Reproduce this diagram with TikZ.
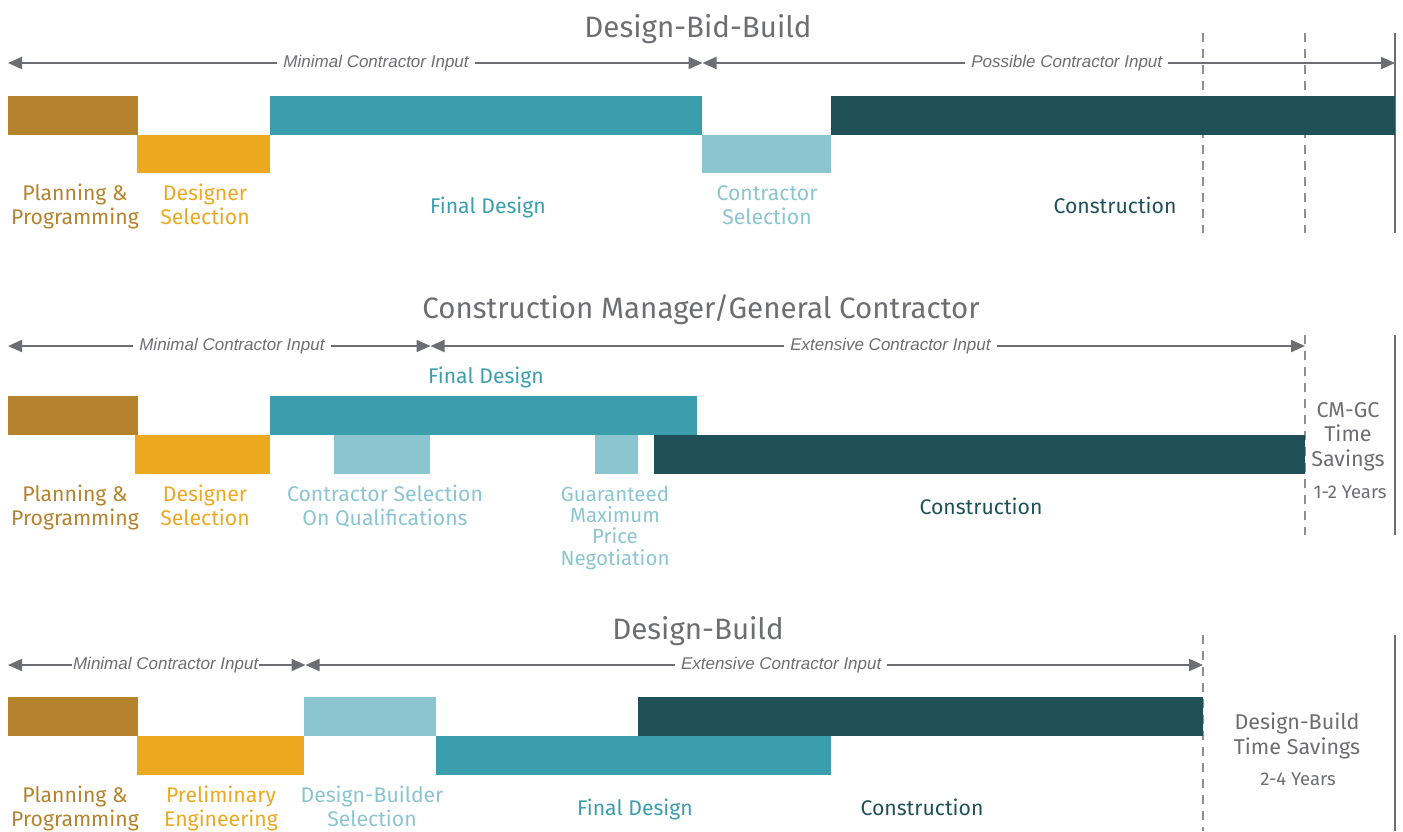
\documentclass[tikz,border=0pt]{standalone}
\usepackage{fontspec}
\setmainfont{Fira Sans}
\newfontfamily\inputfont{Liberation Sans}
\usetikzlibrary{arrows.meta}

\definecolor{plancol}{HTML}{B5832E}
\definecolor{desigcol}{HTML}{ECA920}
\definecolor{finalcol}{HTML}{3A9EAD}
\definecolor{selcol}{HTML}{8BC5CF}
\definecolor{constcol}{HTML}{1F5058}
\definecolor{txtgray}{HTML}{6D6E71}
\definecolor{dashgray}{HTML}{8E8E8E}

\tikzset{
  title/.style={font=\fontsize{29.5}{32}\selectfont, text=txtgray, anchor=base, inner sep=0pt},
  phase/.style={font=\fontsize{21.2}{24}\selectfont, align=center, anchor=base, inner sep=0pt},
  saving/.style={font=\fontsize{21.5}{24.5}\selectfont, align=center, anchor=base, inner sep=0pt, text=txtgray},
  years/.style={font=\fontsize{18.5}{20}\selectfont, anchor=base, inner sep=0pt, text=txtgray},
  span/.style={draw=txtgray, line width=2pt, {Triangle[length=14pt,width=12pt]}-{Triangle[length=14pt,width=12pt]}},
  spanlbl/.style={font=\inputfont\itshape\fontsize{17}{19}\selectfont, text=txtgray, fill=white, inner xsep=6pt, inner ysep=2pt},
  endline/.style={draw=txtgray, line width=2pt},
  saveline/.style={draw=dashgray, line width=1.6pt, dash pattern=on 9pt off 7pt}
}

\begin{document}
\begin{tikzpicture}[x=1pt,y=-1pt]
\useasboundingbox (0,0) rectangle (1403,831);

% ---------- Design-Bid-Build ----------
\node[title] (dbbtitle) at (698,37) {Design-Bid-Build};
\coordinate (dbbA) at (8,63);
\coordinate (dbbB) at (702.5,63);
\coordinate (dbbC) at (1395,63);
\draw[saveline] (1203,33) -- (1203,233);
\draw[saveline] (1305,33) -- (1305,233);
\draw[endline] (1395,33) -- (1395,233);
\foreach \xa/\xb/\ya/\col in {8/138/96/plancol, 137/270/134.5/desigcol, 270/702/96/finalcol,
  702/831/134.5/selcol, 831/1395/96/constcol}
  \fill[\col] (\xa,\ya) rectangle (\xb,\ya+38.5);
\draw[span] (dbbA) -- (dbbB) node[spanlbl, pos=0.53] (dbbmin) {Minimal Contractor Input};
\draw[span] (dbbB) -- (dbbC) node[spanlbl, pos=0.526] (dbbpos) {Possible Contractor Input};

\node[phase, text=plancol] (dbbplan) at (75,224) {Planning \&\\Programming};
\node[phase, text=desigcol] (dbbdes) at (205,224) {Designer\\Selection};
\node[phase, text=finalcol] (dbbfin) at (488,213) {Final Design};
\node[phase, text=selcol] (dbbcon) at (767,224) {Contractor\\Selection};
\node[phase, text=constcol] (dbbbuild) at (1115,213) {Construction};

% ---------- CM/GC ----------
\node[title] (cmtitle) at (701,318) {Construction Manager/General Contractor};
\coordinate (cmA) at (8,346);
\coordinate (cmB) at (430.5,346);
\coordinate (cmC) at (1305,346);
\draw[saveline] (1305,335) -- (1305,535);
\draw[endline] (1395,335) -- (1395,535);
\foreach \xa/\xb/\ya/\col in {8/138/396/plancol, 135/270/435/desigcol, 270/697/396/finalcol,
  334/430/435/selcol, 595/638/435/selcol, 654/1305/435/constcol}
  \fill[\col] (\xa,\ya) rectangle (\xb,\ya+39);
\draw[span] (cmA) -- (cmB) node[spanlbl, pos=0.53] (cmmin) {Minimal Contractor Input};
\draw[span] (cmB) -- (cmC) node[spanlbl, pos=0.526] (cmext) {Extensive Contractor Input};

\node[phase, text=finalcol] (cmfin) at (486,383) {Final Design};
\node[phase, text=plancol] (cmplan) at (75,525) {Planning \&\\Programming};
\node[phase, text=desigcol] (cmdes) at (205,525) {Designer\\Selection};
\node[phase, text=selcol] (cmqual) at (385,525) {Contractor Selection\\On Qualifications};
\node[phase, text=selcol, font=\fontsize{20.5}{21.2}\selectfont] (cmgmp) at (615,565) {Guaranteed\\Maximum\\Price\\Negotiation};
\node[phase, text=constcol] (cmbuild) at (981,514) {Construction};
\node[saving] (cmsave) at (1348,466) {CM-GC\\Time\\Savings};
\node[years] (cmyears) at (1350,498) {1-2 Years};

% ---------- Design-Build ----------
\node[title] (dbtitle) at (698,639) {Design-Build};
\coordinate (dbA) at (8,665);
\coordinate (dbB) at (305.5,665);
\coordinate (dbC) at (1203,665);
\draw[saveline] (1203,635) -- (1203,831);
\draw[endline] (1395,635) -- (1395,831);
\foreach \xa/\xb/\ya/\col in {8/138/697/plancol, 137/304/736/desigcol, 304/436/697/selcol,
  436/831/736/finalcol, 638/1203/697/constcol}
  \fill[\col] (\xa,\ya) rectangle (\xb,\ya+39);
\draw[span] (dbA) -- (dbB) node[spanlbl, pos=0.53, inner xsep=1pt] (dbmin) {Minimal Contractor Input};
\draw[span] (dbB) -- (dbC) node[spanlbl, pos=0.53] (dbext) {Extensive Contractor Input};

\node[phase, text=plancol] (dbplan) at (75,826) {Planning \&\\Programming};
\node[phase, text=desigcol] (dbeng) at (221,826) {Preliminary\\Engineering};
\node[phase, text=selcol] (dbsel) at (372,826) {Design-Builder\\Selection};
\node[phase, text=finalcol] (dbfin) at (635,815) {Final Design};
\node[phase, text=constcol] (dbbuild) at (922,815) {Construction};
\node[saving] (dbsave) at (1297,754) {Design-Build\\Time Savings};
\node[years] (dbyears) at (1298,785) {2-4 Years};
\end{tikzpicture}
\end{document}
